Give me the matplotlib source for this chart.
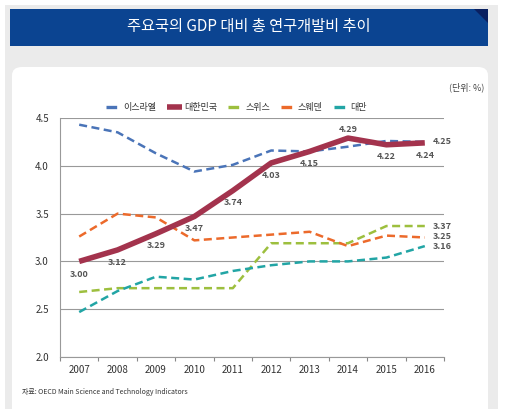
import matplotlib
matplotlib.use("Agg")
import matplotlib.pyplot as plt
from matplotlib.patches import Rectangle, FancyBboxPatch, Polygon

plt.rcParams["font.family"] = ["Noto Sans CJK KR", "DejaVu Sans"]

# data
years = ["2007", "2008", "2009", "2010", "2011", "2012", "2013", "2014", "2015", "2016"]
israel = [4.43, 4.35, 4.13, 3.94, 4.01, 4.16, 4.15, 4.20, 4.26, 4.25]
korea = [3.00, 3.12, 3.29, 3.47, 3.74, 4.03, 4.15, 4.29, 4.22, 4.24]
swiss = [2.68, 2.72, 2.72, 2.72, 2.72, 3.19, 3.19, 3.19, 3.37, 3.37]
sweden = [3.26, 3.50, 3.46, 3.22, 3.25, 3.28, 3.31, 3.16, 3.27, 3.25]
taiwan = [2.47, 2.69, 2.84, 2.81, 2.90, 2.96, 3.00, 3.00, 3.04, 3.16]
names = ["이스라엘", "대한민국", "스위스", "스웨덴", "대만"]
yticks = [2.0, 2.5, 3.0, 3.5, 4.0, 4.5]

W, H = 507, 417
fig = plt.figure(figsize=(W / 100, H / 100), dpi=100)
fig.patch.set_facecolor("white")


def fx(px):
    return px / W


def fy(py):
    return 1 - py / H


# background panels
fig.patches.append(Rectangle((fx(5), fy(409)), fx(493), 404 / H,
                             transform=fig.transFigure, facecolor="#ebebeb",
                             edgecolor="none", zorder=0))
fig.patches.append(Rectangle((fx(10), fy(46)), fx(478), 37 / H,
                             transform=fig.transFigure, facecolor="#0b4491",
                             edgecolor="none", zorder=1))
fig.patches.append(Polygon([(fx(474), fy(9)), (fx(488), fy(9)), (fx(488), fy(23))],
                           closed=True, transform=fig.transFigure,
                           facecolor="#0a2060", edgecolor="none", zorder=2))
fig.patches.append(FancyBboxPatch((fx(12), fy(420)), fx(476), 353 / H,
                                  boxstyle="round,pad=0,rounding_size=0.02",
                                  transform=fig.transFigure, facecolor="white",
                                  edgecolor="none", zorder=1))

fig.text(fx(249), fy(27), "주요국의 GDP 대비 총 연구개발비 추이", color="white",
         fontsize=11, ha="center", va="center")
fig.text(fx(484), fy(87), "(단위: %)", color="#444444", fontsize=6.5,
         ha="right", va="center")
fig.text(fx(22), fy(392), "자료: OECD Main Science and Technology Indicators",
         color="#333333", fontsize=5, ha="left", va="center")

ax = fig.add_axes([fx(60), fy(357), fx(384), 239 / H])
ax.set_zorder(5)
ax.set_facecolor("none")
x = range(len(years))

colors = ["#4a74b8", "#a3334d", "#9dbf3e", "#ec6a2b", "#22a5a5"]
series = [israel, korea, swiss, sweden, taiwan]
for s, c, n in zip(series, colors, names):
    if n == "대한민국":
        ax.plot(x, s, color=c, lw=4, label=n, zorder=5, solid_capstyle="butt")
    else:
        ax.plot(x, s, color=c, lw=1.8, ls=(0, (3.2, 1.8)), label=n, zorder=4)

ax.set_xlim(-0.5, len(years) - 0.5)
ax.set_ylim(2.0, 4.5)
ax.set_yticks(yticks)
ax.set_yticklabels([f"{v:.1f}" for v in yticks], color="#333333", fontsize=7)
ax.set_xticks([i + 0.5 for i in range(-1, len(years))], minor=False)
ax.set_xticklabels([])
ax.set_xticks(list(x), minor=True)
ax.set_xticklabels(years, minor=True, color="#333333", fontsize=7)
ax.tick_params(axis="x", which="major", length=3, direction="out", color="#888888")
ax.tick_params(axis="x", which="minor", length=0, pad=6)
ax.tick_params(axis="y", length=0, pad=8)
ax.grid(axis="y", color="#999999", lw=0.8)
ax.set_axisbelow(True)
for side in ["top", "right"]:
    ax.spines[side].set_visible(False)
ax.spines["left"].set_color("#999999")
ax.spines["bottom"].set_color("#999999")
ax.spines["left"].set_linewidth(0.8)
ax.spines["bottom"].set_linewidth(0.8)

# korea value labels (offsets in points)
offsets = [-9.2, -8.8, -8.8, -8.8, -8.8, -9.2, -8.8, 6.0, -8.8, -8.8]
for i, (v, dy) in enumerate(zip(korea, offsets)):
    ax.annotate(f"{v:.2f}", (i, v), xytext=(0, dy), textcoords="offset points",
                ha="center", va="center", fontsize=6.5, color="#555555",
                fontweight="bold")

# right end labels
ends = [(israel[-1], 0), (swiss[-1], 0), (sweden[-1], 1), (taiwan[-1], -0.5)]
for v, dy in ends:
    ax.annotate(f"{v:.2f}", (len(years) - 1, v), xytext=(6, dy),
                textcoords="offset points", ha="left", va="center",
                fontsize=6.5, color="#555555", fontweight="bold")

leg = ax.legend(loc="lower center", bbox_to_anchor=(0.46, 1.0), ncol=5,
                frameon=False, fontsize=6.5, handlelength=1.6,
                columnspacing=1.2, handletextpad=0.3, borderaxespad=0.3)
for t in leg.get_texts():
    t.set_color("#333333")
for h in leg.get_lines():
    if h.get_label() != "대한민국":
        h.set_linewidth(2.4)

fig.savefig("out.png", dpi=100)
